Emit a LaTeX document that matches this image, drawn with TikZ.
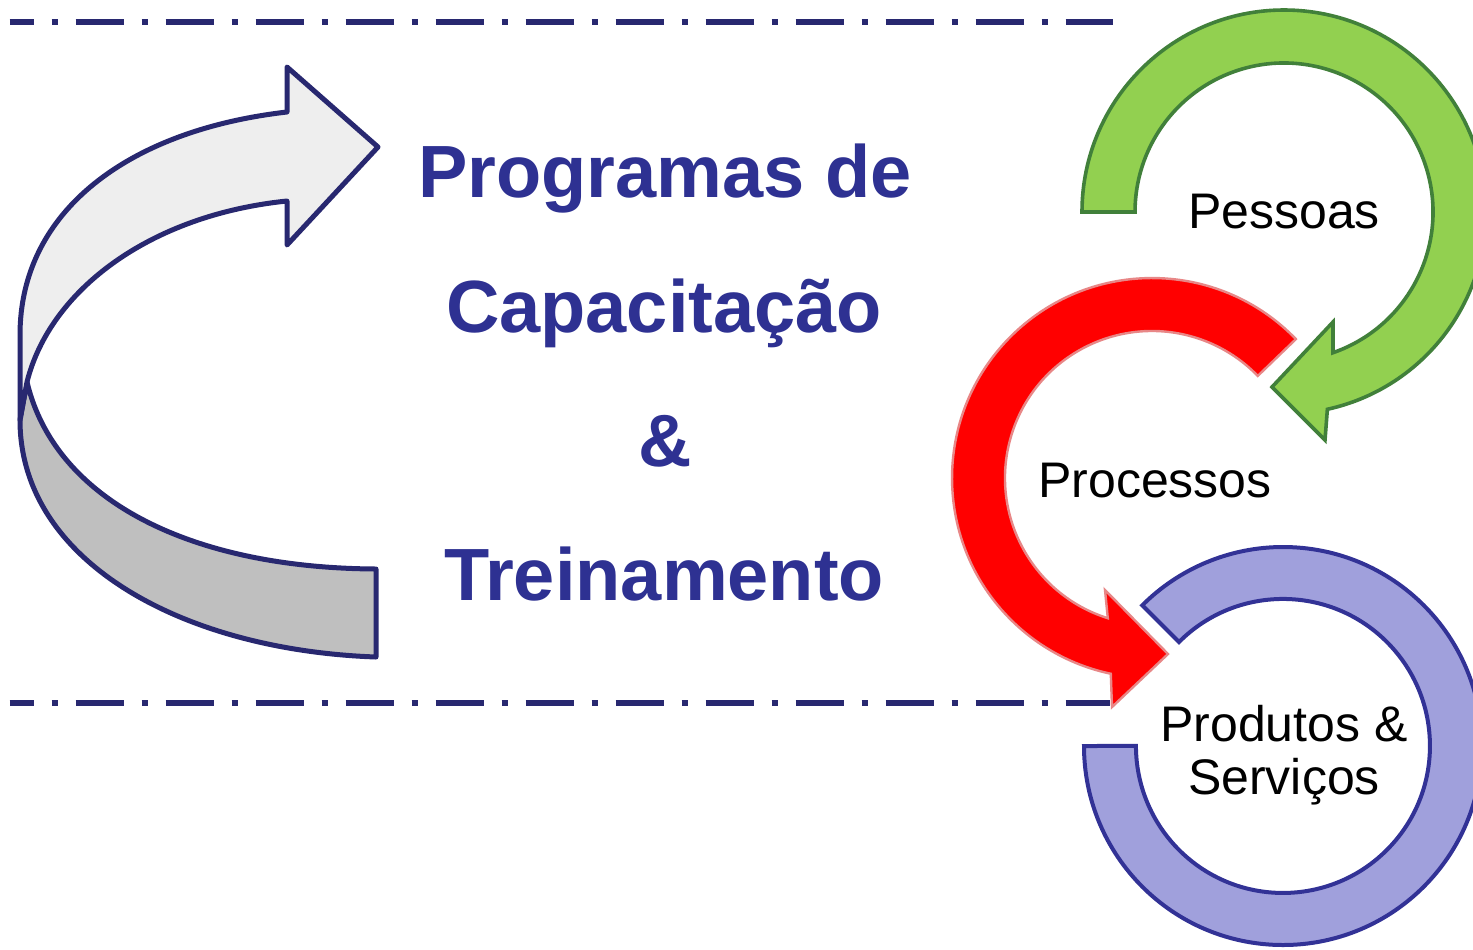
\documentclass[tikz,border=0pt]{standalone}
\usepackage{fontspec}
\setmainfont{Liberation Sans}
\definecolor{navy}{RGB}{40,40,112}
\definecolor{titleblue}{RGB}{46,49,146}
\definecolor{bandlight}{RGB}{238,238,238}
\definecolor{banddark}{RGB}{191,191,191}
\definecolor{greenfill}{RGB}{146,208,80}
\definecolor{greenline}{RGB}{65,128,58}
\definecolor{redfill}{RGB}{255,0,0}
\definecolor{redline}{RGB}{232,135,135}
\definecolor{bluefill}{RGB}{160,160,220}
\definecolor{blueline}{RGB}{50,50,150}
\begin{document}
\begin{tikzpicture}[x=0.5pt,y=-0.5pt,
  sep/.style={draw=navy,line width=2.75pt,dash pattern=on 24pt off 9pt on 3pt off 9pt,dash phase=12pt},
  band/.style={draw=navy,line width=2.5pt,line join=round},
  ringgreen/.style={fill=greenfill,draw=greenline,line width=1.8pt,line join=miter},
  ringred/.style={fill=redfill,draw=redline,line width=1.2pt,line join=miter},
  ringblue/.style={fill=bluefill,draw=blueline,line width=2pt,line join=miter},
  title/.style={text=titleblue,font=\fontsize{37}{44}\selectfont\bfseries,anchor=base,inner sep=0pt},
  lbl/.style={text=black,font=\fontsize{25}{30}\selectfont,anchor=base,inner sep=0pt}]
\clip (0,0) rectangle (1473,949);
\fill[white] (0,0) rectangle (1473,949);

% dash-dot separators
\coordinate (t0) at (9.6,22);
\coordinate (t1) at (1113,22);
\coordinate (b0) at (9.6,703);
\coordinate (b1) at (1110,703);
\draw[sep] (t0) -- (t1);
\draw[sep] (b0) -- (b1);

% big curved arrow (left)
\draw[band,fill=banddark] (27,382) .. controls (55,500) and (190,568) .. (376,569)
  -- (376,657) .. controls (180,650) and (20,560) .. (20,420) -- cycle;
\draw[band,fill=bandlight] (287,112) -- (287,67) -- (378,147) -- (287,245) -- (287,201)
  .. controls (150,215) and (50,290) .. (27,382) -- (20,420) -- (20,335)
  .. controls (20,210) and (130,130) .. (287,112) -- cycle;

% green ring (Pessoas)
\draw[ringgreen] (1082,212) arc[start angle=180,end angle=437.6,radius=202]
  -- (1325,440) -- (1272,387) -- (1333,322) -- (1333,352.7)
  arc[start angle=70.8,end angle=-180,radius=149] -- cycle;

% blue ring (Produtos & Servicos)
\draw[ringblue] (1084,746) arc[start angle=180,end angle=-135,radius=199]
  -- (1179,642) arc[start angle=-135,end angle=180,radius=147] -- cycle;

% red ring (Processos)
\draw[ringred] (1295.9,339.1) arc[start angle=-44,end angle=-258.1,radius=200]
  -- (1112,707) -- (1168,654) -- (1105,590) -- (1107.8,618.2)
  arc[start angle=107.5,end angle=316,radius=147] -- cycle;

% texts
\node[title] (tp) at (665,197) {Programas de};
\node[title] (tc) at (664,332) {Capacitação};
\node[title] (ta) at (665,466) {\&};
\node[title] (tt) at (664,600) {Treinamento};
\node[lbl] (lp) at (1284,228) {Pessoas};
\node[lbl] (lr) at (1155,497) {Processos};
\node[lbl] (lb1) at (1284,741) {Produtos \&};
\node[lbl] (lb2) at (1284,794) {Serviços};
\end{tikzpicture}
\end{document}
